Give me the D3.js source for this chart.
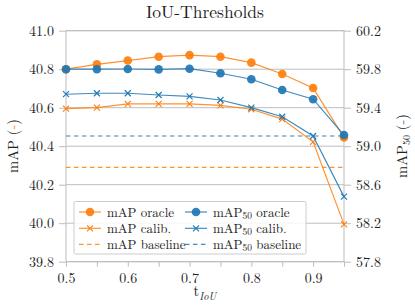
<!DOCTYPE html>
<html>
<head>
<meta charset="utf-8">
<script src="https://cdn.jsdelivr.net/npm/d3@7"></script>
<style>
  html, body { margin: 0; padding: 0; background: #fff; }
  svg { display: block; }
</style>
</head>
<body>
<svg id="chart" width="415" height="308"></svg>
<script>
// ---- data ----
const thresholds = [0.5, 0.55, 0.6, 0.65, 0.7, 0.75, 0.8, 0.85, 0.9, 0.95];
const mapOracle   = [40.80, 40.825, 40.845, 40.865, 40.873, 40.865, 40.834, 40.775, 40.702, 40.445];
const mapCalib    = [40.595, 40.60, 40.62, 40.62, 40.62, 40.612, 40.592, 40.541, 40.423, 39.994];
const map50Oracle = [59.80, 59.80, 59.802, 59.798, 59.805, 59.758, 59.696, 59.584, 59.488, 59.116];
const map50Calib  = [59.54, 59.55, 59.55, 59.532, 59.518, 59.48, 59.40, 59.306, 59.106, 58.476];
const mapBaseline = 40.29;
const map50Baseline = 59.106;
const xTickLabels = [0.5, 0.6, 0.7, 0.8, 0.9];
const xMinorTicks = [0.5, 0.55, 0.6, 0.65, 0.7, 0.75, 0.8, 0.85, 0.9, 0.95];
const leftTicks = [39.8, 40.0, 40.2, 40.4, 40.6, 40.8, 41.0];
const rightTicks = [57.8, 58.2, 58.6, 59.0, 59.4, 59.8, 60.2];

const ORANGE = "#ff7f0e", BLUE = "#1f77b4", GRID = "#bdbdbd";
const FONT = "'Latin Modern Roman', 'Liberation Serif', 'Times New Roman', serif";

const svg = d3.select("#chart").attr("font-family", FONT);
const L = 66, R = 344, T = 30.7, B = 261.7;
const x = d3.scaleLinear().domain([0.5, 0.95]).range([L, R]);
const yL = d3.scaleLinear().domain([39.8, 41.0]).range([B, T]);
const yR = d3.scaleLinear().domain([57.8, 60.2]).range([B, T]);

// grid
svg.append("g").selectAll("line").data(leftTicks).join("line")
  .attr("x1", L).attr("x2", R)
  .attr("y1", d => yL(d)).attr("y2", d => yL(d))
  .attr("stroke", GRID).attr("stroke-width", 1);

// frame
svg.append("rect").attr("x", L).attr("y", T).attr("width", R - L).attr("height", B - T)
  .attr("fill", "none").attr("stroke", GRID).attr("stroke-width", 1);

// axes
const axL = d3.axisLeft(yL).tickValues(leftTicks).tickFormat(d3.format(".1f")).tickSize(7).tickPadding(5);
const axR = d3.axisRight(yR).tickValues(rightTicks).tickFormat(d3.format(".1f")).tickSize(7).tickPadding(5);
const axB = d3.axisBottom(x).tickValues(xMinorTicks).tickFormat(d => xTickLabels.some(v => Math.abs(v - d) < 1e-9) ? d3.format(".1f")(d) : "").tickSize(5).tickPadding(6);

function styleAxis(g) {
  g.attr("font-family", FONT);
  g.select(".domain").remove();
  g.selectAll(".tick line").attr("stroke", GRID);
  g.selectAll(".tick text").attr("font-size", 14).attr("fill", "#222")
    .style("font-family", FONT);
}
svg.append("g").attr("transform", `translate(${L},0)`).call(axL).call(styleAxis);
svg.append("g").attr("transform", `translate(${R},0)`).call(axR).call(styleAxis);
svg.append("g").attr("transform", `translate(0,${B})`).call(axB).call(styleAxis);

// baselines
svg.append("line").attr("x1", L).attr("x2", R)
  .attr("y1", yL(mapBaseline)).attr("y2", yL(mapBaseline))
  .attr("stroke", ORANGE).attr("stroke-opacity", 0.85).attr("stroke-width", 1.2).attr("stroke-dasharray", "4.5,3.5");
svg.append("line").attr("x1", L).attr("x2", R)
  .attr("y1", yR(map50Baseline)).attr("y2", yR(map50Baseline))
  .attr("stroke", BLUE).attr("stroke-opacity", 0.9).attr("stroke-width", 1.2).attr("stroke-dasharray", "4.5,3.5");

function series(vals, yScale, color, marker) {
  const g = svg.append("g");
  const line = d3.line().x((d, i) => x(thresholds[i])).y(d => yScale(d));
  g.append("path").datum(vals).attr("d", line).attr("fill", "none")
    .attr("stroke", color).attr("stroke-opacity", 0.85).attr("stroke-width", 1.2);
  if (marker === "o") {
    g.selectAll("circle").data(vals).join("circle")
      .attr("cx", (d, i) => x(thresholds[i])).attr("cy", d => yScale(d)).attr("r", 4.3)
      .attr("fill", color).attr("fill-opacity", 0.92);
  } else {
    const s = 3;
    g.selectAll("path.m").data(vals).join("path").attr("class", "m")
      .attr("d", (d, i) => {
        const cx = x(thresholds[i]), cy = yScale(d);
        return `M${cx - s},${cy - s}L${cx + s},${cy + s}M${cx - s},${cy + s}L${cx + s},${cy - s}`;
      })
      .attr("stroke", color).attr("stroke-width", 1.1).attr("fill", "none");
  }
}
series(mapCalib, yL, ORANGE, "x");
series(mapOracle, yL, ORANGE, "o");
series(map50Calib, yR, BLUE, "x");
series(map50Oracle, yR, BLUE, "o");

function txt(sel) { return sel.attr("font-family", FONT).style("font-family", FONT).attr("fill", "#222"); }

// title
txt(svg.append("text")).attr("x", 205).attr("y", 17.5).attr("text-anchor", "middle")
  .attr("font-size", 17.5).text("IoU-Thresholds");

// x label
const xl = txt(svg.append("text")).attr("x", 205).attr("y", 295.5).attr("text-anchor", "middle").attr("font-size", 14.5);
xl.append("tspan").text("t");
xl.append("tspan").attr("font-size", 10.5).attr("font-style", "italic").attr("dy", 4).text("IoU");

// left y label
const ylab = txt(svg.append("text")).attr("transform", `translate(18,146) rotate(-90)`)
  .attr("text-anchor", "middle").attr("font-size", 14.5);
ylab.append("tspan").text("mAP (");
ylab.append("tspan").attr("fill", ORANGE).text("-");
ylab.append("tspan").text(")");

// right y label
const yrlab = txt(svg.append("text")).attr("transform", `translate(407,146) rotate(-90)`)
  .attr("text-anchor", "middle").attr("font-size", 14.5);
yrlab.append("tspan").text("mAP");
yrlab.append("tspan").attr("font-size", 10).attr("dy", 3).text("50");
yrlab.append("tspan").attr("dy", -3).text(" (");
yrlab.append("tspan").attr("fill", BLUE).text("-");
yrlab.append("tspan").text(")");

// legend
const lg = svg.append("g");
lg.append("rect").attr("x", 74).attr("y", 201.5).attr("width", 232).attr("height", 52.5)
  .attr("fill", "#fff").attr("fill-opacity", 0.85).attr("stroke", "#cccccc").attr("stroke-width", 1).attr("rx", 1.5);
const legendItems = [
  { col: 0, row: 0, color: ORANGE, type: "o", label: ["mAP oracle"] },
  { col: 1, row: 0, color: BLUE, type: "o", label: ["mAP", "50", " oracle"] },
  { col: 0, row: 1, color: ORANGE, type: "x", label: ["mAP calib."] },
  { col: 1, row: 1, color: BLUE, type: "x", label: ["mAP", "50", " calib."] },
  { col: 0, row: 2, color: ORANGE, type: "d", label: ["mAP baseline"] },
  { col: 1, row: 2, color: BLUE, type: "d", label: ["mAP", "50", " baseline"] },
];
const colX = [79, 185], rowY = [212, 228.3, 244.3];
legendItems.forEach(it => {
  const x0 = colX[it.col], yc = rowY[it.row];
  const g = lg.append("g");
  g.append("line").attr("x1", x0).attr("x2", x0 + 22).attr("y1", yc).attr("y2", yc)
    .attr("stroke", it.color).attr("stroke-opacity", 0.85).attr("stroke-width", 1.2)
    .attr("stroke-dasharray", it.type === "d" ? "4.5,3.5" : null);
  if (it.type === "o") {
    g.append("circle").attr("cx", x0 + 11).attr("cy", yc).attr("r", 4.3).attr("fill", it.color).attr("fill-opacity", 0.92);
  } else if (it.type === "x") {
    const s = 3, cx = x0 + 11;
    g.append("path").attr("d", `M${cx - s},${yc - s}L${cx + s},${yc + s}M${cx - s},${yc + s}L${cx + s},${yc - s}`)
      .attr("stroke", it.color).attr("stroke-width", 1.1);
  }
  const t = txt(g.append("text")).attr("x", x0 + 28).attr("y", yc + 4.5).attr("font-size", 13);
  if (it.label.length === 1) t.text(it.label[0]);
  else {
    t.append("tspan").text(it.label[0]);
    t.append("tspan").attr("font-size", 9.5).attr("dy", 2.5).text(it.label[1]);
    t.append("tspan").attr("dy", -2.5).text(it.label[2]);
  }
});
</script>
</body>
</html>
